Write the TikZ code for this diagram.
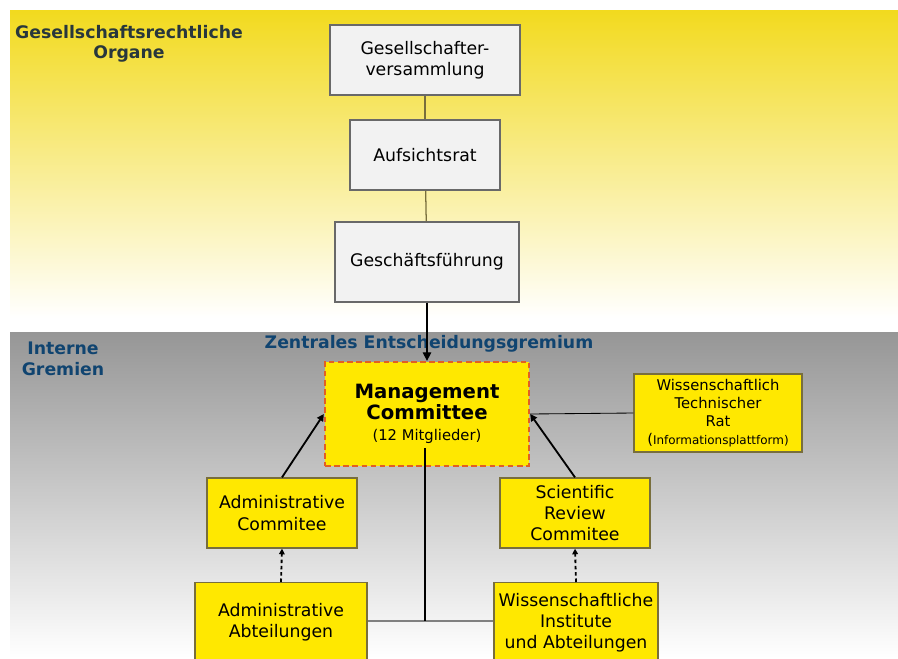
\documentclass[tikz,border=0pt]{standalone}
\usepackage{fontspec}
\setmainfont{DejaVu Sans}
\usetikzlibrary{arrows.meta,positioning,calc}
\definecolor{orgyellow}{RGB}{255,232,0}
\definecolor{bandyellow}{RGB}{242,218,30}
\definecolor{bandgray}{RGB}{150,150,150}
\definecolor{orgolive}{RGB}{120,110,60}
\definecolor{orggray}{RGB}{105,105,105}
\definecolor{orgwhite}{RGB}{242,242,242}
\definecolor{titleblue}{RGB}{16,68,112}
\definecolor{titledark}{RGB}{40,55,60}
\definecolor{mcdash}{RGB}{225,95,35}

\newcommand{\mcbig}{\fontsize{14}{17.5}\selectfont\bfseries}
\newcommand{\mcsmall}{\fontsize{10.5}{13.5}\selectfont}
\newcommand{\wtrsmall}{\fontsize{8.5}{12.8}\selectfont}

\begin{document}
\begin{tikzpicture}[
  x=0.025cm, y=-0.025cm,
  every node/.style={font=\fontsize{12.3}{15}\selectfont},
  organbox/.style={draw=orggray, fill=orgwhite, line width=0.9pt,
                   align=center, inner sep=0pt},
  gremiumbox/.style={draw=orgolive, fill=orgyellow, line width=0.9pt,
                     align=center, inner sep=0pt},
  bandlabel/.style={font=\fontsize{12.3}{14.5}\selectfont\bfseries, align=center},
  organline/.style={draw=orgolive, line width=0.9pt},
  toparrow/.style={line width=1.3pt, -{Triangle[length=5pt,width=5pt]}},
  dotarrow/.style={line width=1.3pt, dash pattern=on 2.5pt off 2pt,
                   -{Triangle[length=4pt,width=4pt]}},
]
\clip (0,0) rectangle (898,658);
\fill[white] (0,0) rectangle (898,658);

%% Bands
\shade[top color=bandyellow, middle color=bandyellow!45, bottom color=white]
  (10,10) rectangle (898,318);
\shade[top color=bandgray, middle color=bandgray!50, bottom color=white]
  (10,332) rectangle (898,658);

%% Band labels
\node[bandlabel, text=titledark] (organe) at (129,44)
  {Gesellschaftsrechtliche\\Organe};
\node[bandlabel, text=titleblue] (gremien) at (63,359) {Interne\\Gremien};
\node[font=\fontsize{12.3}{14}\selectfont\bfseries, text=titleblue] (zentral)
  at (429,344) {Zentrales Entscheidungsgremium};

%% Gesellschaftsrechtliche Organe
\node[organbox, minimum width=4.75cm, minimum height=1.75cm] (gv)
  at (425,60) {Gesellschafter-\\versammlung};
\node[organbox, minimum width=3.75cm, minimum height=1.75cm] (ar)
  at (425,155) {Aufsichtsrat};
\node[organbox, minimum width=4.6cm, minimum height=2cm] (gf)
  at (427,262) {Geschäftsführung};

%% Interne Gremien
\node[gremiumbox, draw=mcdash, line width=1.6pt, dash pattern=on 4pt off 2.5pt,
      minimum width=5.1cm, minimum height=2.6cm] (mc) at (427,414)
  {\mcbig Management\\\mcbig Committee\\\mcsmall (12 Mitglieder)};
\node[gremiumbox, font=\fontsize{10.5}{12.8}\selectfont,
      minimum width=4.2cm, minimum height=1.95cm] (wtr) at (718,413)
  {Wissenschaftlich\\Technischer\\Rat\\(\wtrsmall Informationsplattform)};
\node[gremiumbox, minimum width=3.75cm, minimum height=1.75cm] (admc)
  at (282,513) {Administrative\\Commitee};
\node[gremiumbox, minimum width=3.75cm, minimum height=1.75cm] (src)
  at (575,513) {Scientific\\Review\\Commitee};
\node[gremiumbox, minimum width=4.3cm, minimum height=2cm,
      anchor=north] (adma) at (281,582) {Administrative\\Abteilungen};
\node[gremiumbox, minimum width=4.1cm, minimum height=2cm,
      anchor=north] (wia) at (576,582) {Wissenschaftliche\\Institute\\und Abteilungen};

%% Connectors
\draw[organline] (gv) -- (ar);
\draw[organline] (ar) -- (gf);
\draw[line width=0.8pt, -{Triangle[length=6pt,width=6pt]}]
  (gf.south -| mc.north) -- (mc.north);
\draw[line width=0.6pt] (mc.east) -- (wtr.west);
\draw[toparrow] (admc.north) -- (mc.west);
\draw[toparrow] (src.north) -- (mc.east);
\draw[dotarrow] (adma.north) -- (admc.south);
\draw[dotarrow] (wia.north) -- (src.south);
\coordinate (mcfoot) at ($(mc.south)+(-2,-19)$);
\coordinate (joint) at (mcfoot |- 0,621);
\draw[line width=1.4pt, draw=gray] (adma.east |- joint) -- (wia.west |- joint);
\draw[line width=0.8pt] (mcfoot) -- (joint);
\end{tikzpicture}
\end{document}
